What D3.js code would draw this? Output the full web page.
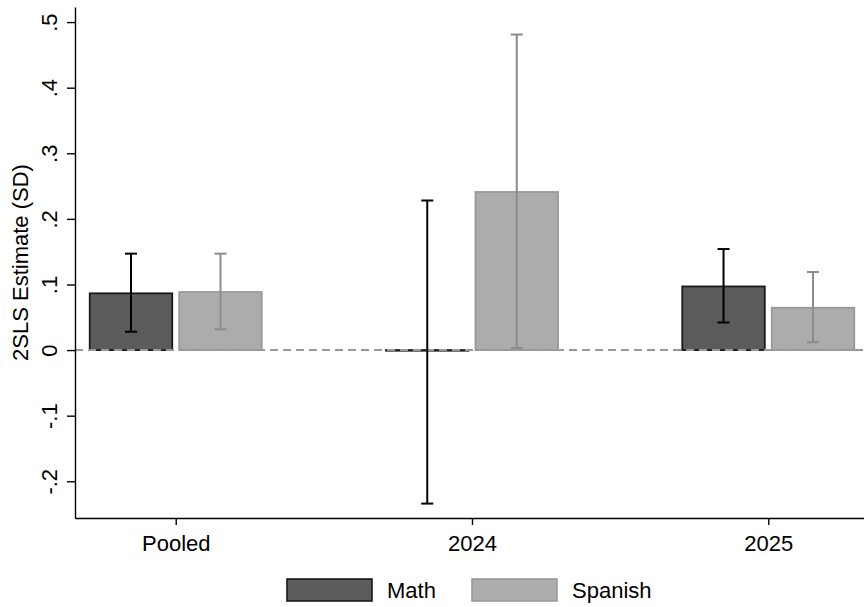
<!DOCTYPE html>
<html>
<head>
<meta charset="utf-8">
<script src="https://cdn.jsdelivr.net/npm/d3@7"></script>
<style>
  html, body { margin: 0; padding: 0; background: #fff; }
  text { font-family: "Liberation Sans", Arial, Helvetica, sans-serif; }
</style>
</head>
<body>
<div id="main"></div>
<script>
// chart data
var categories = ["Pooled", "2024", "2025"];
var series = ["Math", "Spanish"];
var mathEst = [0.0865, -0.001, 0.097];
var mathLo = [0.028, -0.234, 0.042];
var mathHi = [0.147, 0.228, 0.154];
var spanishEst = [0.0885, 0.241, 0.0645];
var spanishLo = [0.0316, 0.003, 0.012];
var spanishHi = [0.147, 0.481, 0.119];
var yTicks = [-0.2, -0.1, 0, 0.1, 0.2, 0.3, 0.4, 0.5];

var W = 864, H = 607;
var plotL = 75, plotR = 869, plotT = 7, plotB = 518;

var fills = { Math: "#5b5b5b", Spanish: "#acacac" };
var strokes = { Math: "#1a1a1a", Spanish: "#999" };
var errCol = { Math: "#000", Spanish: "#8c8c8c" };

var rows = [];
categories.forEach(function(c, i) {
    rows.push({ cat: c, s: "Math", v: mathEst[i], lo: mathLo[i], hi: mathHi[i] });
    rows.push({ cat: c, s: "Spanish", v: spanishEst[i], lo: spanishLo[i], hi: spanishHi[i] });
});

var svg = d3.select("#main").append("svg")
    .attr("width", W).attr("height", H);

var y = d3.scaleLinear().domain([-0.256, 0.523]).range([plotB, plotT]);
var x = d3.scalePoint().domain(categories).range([plotL, plotR]).padding(0.34);
var xs = d3.scaleBand().domain(series).range([-86, 86]).paddingInner(0.078);

var fmt = function(d) {
    if (d === 0) return "0";
    return d3.format(".1f")(d).replace("0.", ".").replace("−", "-");
};

// bars
svg.append("g").selectAll("rect").data(rows).enter().append("rect")
    .attr("x", function(d) { return x(d.cat) + xs(d.s); })
    .attr("y", function(d) { return Math.min(y(d.v), y(0)); })
    .attr("width", xs.bandwidth())
    .attr("height", function(d) { return Math.abs(y(d.v) - y(0)); })
    .attr("fill", function(d) { return fills[d.s]; })
    .attr("stroke", function(d) { return strokes[d.s]; })
    .attr("stroke-width", 1.8);

// zero reference line
svg.append("line")
    .attr("x1", plotL).attr("x2", W)
    .attr("y1", y(0)).attr("y2", y(0))
    .attr("stroke", "#999").attr("stroke-width", 2)
    .attr("stroke-dasharray", "8,5");

// error bars
var eb = svg.append("g").selectAll("g").data(rows).enter().append("g")
    .attr("stroke", function(d) { return errCol[d.s]; })
    .attr("stroke-width", 2);
var cx = function(d) { return x(d.cat) + xs(d.s) + xs.bandwidth() / 2; };
eb.append("line")
    .attr("x1", cx).attr("x2", cx)
    .attr("y1", function(d) { return y(d.lo); })
    .attr("y2", function(d) { return y(d.hi); });
eb.append("line")
    .attr("x1", function(d) { return cx(d) - 6; }).attr("x2", function(d) { return cx(d) + 6; })
    .attr("y1", function(d) { return y(d.lo); }).attr("y2", function(d) { return y(d.lo); });
eb.append("line")
    .attr("x1", function(d) { return cx(d) - 6; }).attr("x2", function(d) { return cx(d) + 6; })
    .attr("y1", function(d) { return y(d.hi); }).attr("y2", function(d) { return y(d.hi); });

// y axis
var yAxis = svg.append("g").attr("transform", "translate(" + plotL + ",0)")
    .call(d3.axisLeft(y).tickValues(yTicks).tickFormat(fmt).tickSize(8).tickSizeOuter(0));
yAxis.select(".domain").attr("stroke", "#000").attr("stroke-width", 1.4);
yAxis.selectAll(".tick line").attr("stroke", "#000").attr("stroke-width", 1.4);
yAxis.selectAll(".tick text")
    .attr("font-size", 22).attr("fill", "#000")
    .attr("text-anchor", "middle")
    .attr("x", null).attr("dy", null)
    .attr("transform", "translate(-18,0) rotate(-90)");

// x axis
var xAxis = svg.append("g").attr("transform", "translate(0," + plotB + ")")
    .call(d3.axisBottom(x).tickSize(7).tickSizeOuter(0));
xAxis.select(".domain").attr("stroke", "#000").attr("stroke-width", 1.4);
xAxis.selectAll(".tick line").attr("stroke", "#000").attr("stroke-width", 1.4);
xAxis.selectAll(".tick text")
    .attr("font-size", 22).attr("fill", "#000")
    .attr("y", 33).attr("dy", null);

// y title
svg.append("text")
    .attr("transform", "translate(28," + ((plotT + plotB) / 2) + ") rotate(-90)")
    .attr("text-anchor", "middle")
    .attr("font-size", 22)
    .text("2SLS Estimate (SD)");

// legend
var leg = svg.append("g").selectAll("g").data(series).enter().append("g")
    .attr("transform", function(d, i) { return "translate(" + (287 + i * 185) + ",579)"; });
leg.append("rect")
    .attr("width", 85).attr("height", 22)
    .attr("fill", function(d) { return fills[d]; })
    .attr("stroke", function(d) { return strokes[d]; })
    .attr("stroke-width", 1.6);
leg.append("text")
    .attr("x", 100).attr("y", 19)
    .attr("font-size", 22)
    .text(function(d) { return d; });
</script>
</body>
</html>
